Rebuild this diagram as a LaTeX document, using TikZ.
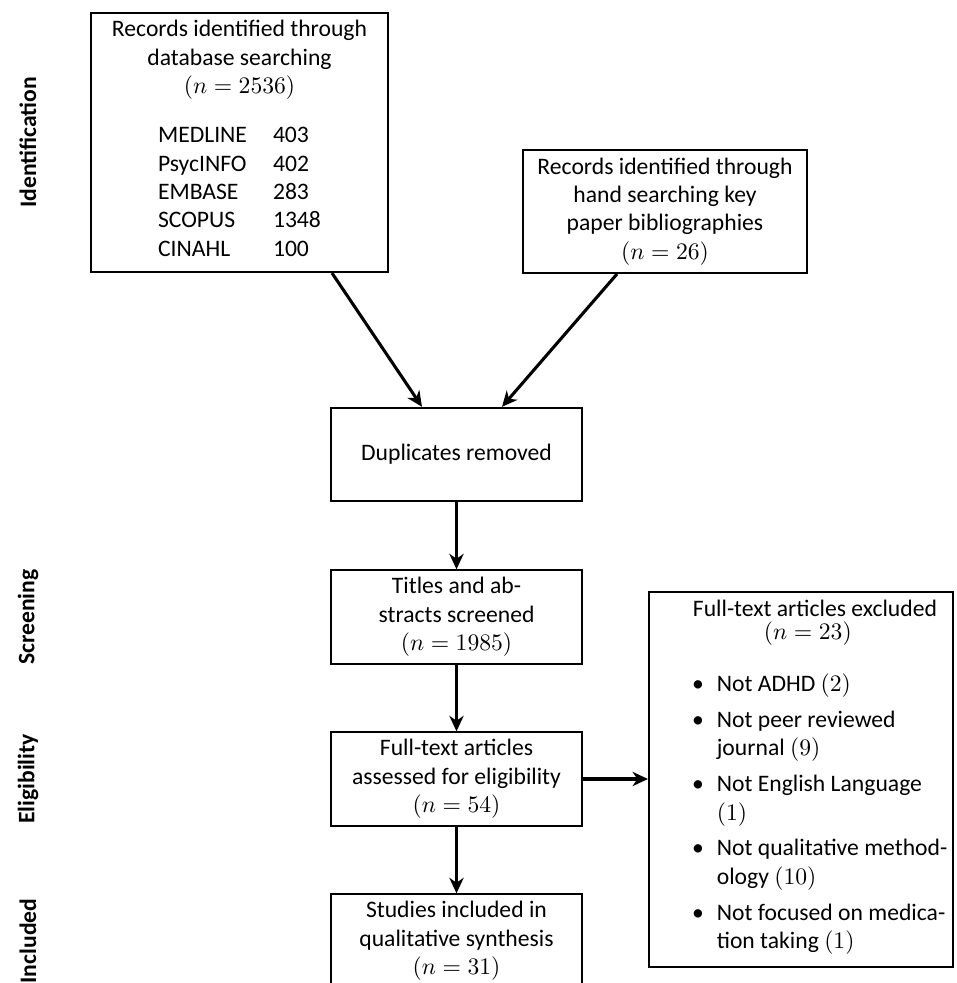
\documentclass[tikz,border=0pt]{standalone}
\usepackage[no-math]{fontspec}
\setmainfont{Carlito}
\usepackage{enumitem}
\usetikzlibrary{arrows.meta,calc}

\tikzset{
  prisma box/.style={draw, line width=0.85pt, align=center, inner sep=0pt,
                     font=\fontsize{10}{12}\selectfont},
  flow arrow/.style={-{Stealth[length=6.5pt,width=6pt,inset=2pt]}, line width=1.3pt},
  stage label/.style={rotate=90, font=\fontsize{10}{12}\selectfont\bfseries},
}

\begin{document}
\begin{tikzpicture}[x=0.423pt, y=-0.423pt]
    % units are pixels of the 957x983 frame, y runs downwards
    \clip (0,0) rectangle (957,983);

    % === Stage labels, left margin ===
    \node[stage label] (lid)  at (28,142.5) {Identification};
    \node[stage label] (lscr) at (28,617)   {Screening};
    \node[stage label] (lelg) at (28,779)   {Eligibility};
    \node[stage label] (linc) at (28,941)   {Included};

    % === Identification ===
    \node[prisma box, minimum width=125.6pt, minimum height=109.6pt]
      (db) at (239.5,142.5)
      {Records identified through\\database searching\\$(n=2536)$\\[9pt]
       \begin{tabular}{@{}l@{\hspace{11pt}}l@{}}
         MEDLINE  & 403\\
         PsycINFO & 402\\
         EMBASE   & 283\\
         SCOPUS   & 1348\\
         CINAHL   & 100
       \end{tabular}};
    \node[prisma box, minimum width=120.1pt, minimum height=52pt]
      (hand) at (665,211.5)
      {Records identified through\\hand searching key\\paper bibliographies\\$(n=26)$};

    % === Centre column, x = 456.5 ===
    \node[prisma box, minimum width=106.2pt, minimum height=39.5pt]
      (dup) at (456.5,454.5) {Duplicates removed};
    \node[prisma box, minimum width=106.2pt, minimum height=39.5pt]
      (titles) at (456.5,617) {Titles and ab-\\stracts screened\\$(n=1985)$};
    \node[prisma box, minimum width=106.2pt, minimum height=39.5pt]
      (full) at (456.5,779) {Full-text articles\\assessed for eligibility\\$(n=54)$};
    \node[prisma box, minimum width=106.2pt, minimum height=39.5pt]
      (studies) at (456.5,941) {Studies included in\\qualitative synthesis\\$(n=31)$};

    % === Exclusions, right ===
    % text block starts at x = 678, title centred on x = 810
    \node[prisma box, minimum width=128.6pt, minimum height=158.6pt]
      (excl) at (801,779.5)
      {\hspace*{11.8pt}\begin{minipage}[c][151.4pt][t]{116pt}
         {\centering Full-text articles excluded\hspace*{6pt}\\[-2.5pt]%
                    $(n=23)$\hspace*{6pt}\par}
         \raggedright
         \begin{itemize}[leftmargin=16.5pt, labelsep=5.5pt, itemsep=3.2pt,
                         parsep=0pt, topsep=10pt, partopsep=0pt]
           \item Not ADHD $(2)$
           \item Not peer reviewed\\journal $(9)$
           \item Not English Language\\$(1)$
           \item Not qualitative method-\\ology $(10)$
           \item Not focused on medica-\\tion taking $(1)$
         \end{itemize}
       \end{minipage}};

    % === Connectors ===
    \draw[flow arrow] ($(db.south)+(92.5,0)$)  -- ($(dup.north)+(-34.5,0)$);
    \draw[flow arrow] ($(hand.south)+(-48,0)$) -- ($(dup.north)+(45.5,0)$);
    \draw[flow arrow] (dup) -- (titles);
    \draw[flow arrow] (titles) -- (full);
    \draw[flow arrow] (full) -- (studies);
    \draw[flow arrow] (full.east) -- (full.east -| excl.west);

\end{tikzpicture}
\end{document}
